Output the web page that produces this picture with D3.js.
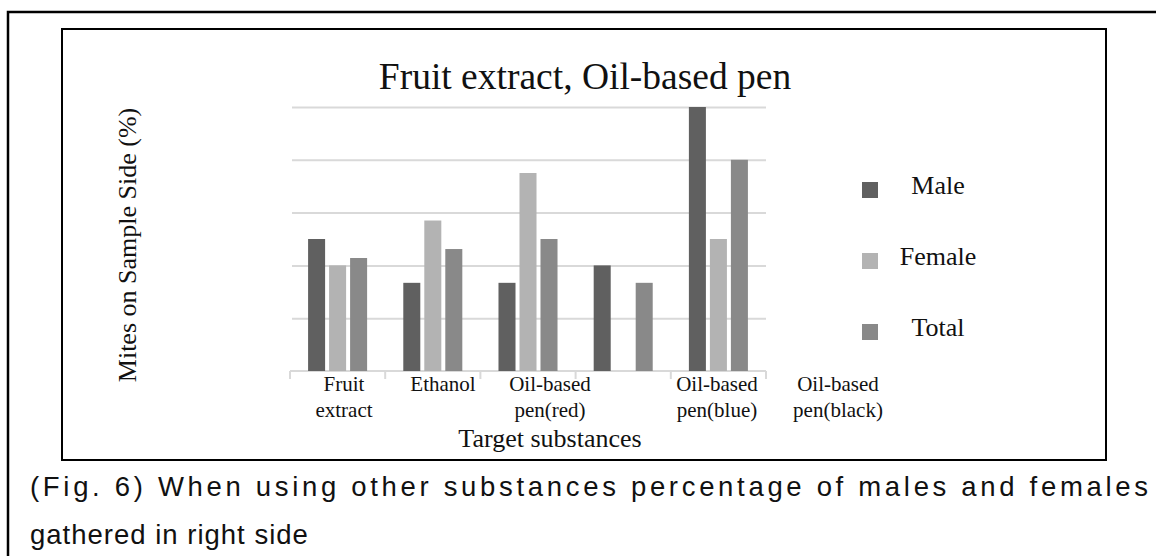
<!DOCTYPE html>
<html>
<head>
<meta charset="utf-8">
<script src="https://cdn.jsdelivr.net/npm/d3@7"></script>
<style>
  html, body { margin: 0; padding: 0; background: #fff; }
  svg { display: block; }
  .serif { font-family: "Liberation Serif", "Times New Roman", serif; fill: #111; }
  .sans { font-family: "Liberation Sans", Arial, sans-serif; fill: #111; }
</style>
</head>
<body>
<svg id="chart" width="1156" height="556"></svg>
<script>
// Categories (two-line labels) and series values, % of mites on the sample side
const categories = ["Fruit extract", "Ethanol", "Oil-based pen(red)", "Oil-based pen(blue)", "Oil-based pen(black)"];
const categoryLines = [["Fruit", "extract"], ["Ethanol"], ["Oil-based", "pen(red)"], ["Oil-based", "pen(blue)"], ["Oil-based", "pen(black)"]];
const seriesNames = ["Male", "Female", "Total"];
const maleValues = [25, 16.7, 16.7, 20, 50];
const femaleValues = [20, 28.5, 37.5, 0, 25];
const totalValues = [21.4, 23.1, 25, 16.7, 40];
const yTicks = [0, 10, 20, 30, 40, 50];

const seriesValues = [maleValues, femaleValues, totalValues];
const colors = ["#606060", "#b3b3b3", "#898989"];

// Where the category captions sit along the bottom (page x of each caption centre)
const captionCentres = [344, 443, 550, 717, 838];

const svg = d3.select("#chart");

// Figure frames
svg.append("path")
  .attr("d", "M8,556 V12 H1156")
  .attr("fill", "none").attr("stroke", "#000").attr("stroke-width", 2.5);
svg.append("rect")
  .attr("x", 62).attr("y", 29).attr("width", 1044).attr("height", 431)
  .attr("fill", "#fff").attr("stroke", "#000").attr("stroke-width", 2);

// Scales
const x0 = d3.scaleBand().domain(categories).range([290, 766])
  .paddingInner(0.38).paddingOuter(0.19);
const x1 = d3.scaleBand().domain(seriesNames).range([0, x0.bandwidth()])
  .paddingInner(0.19).paddingOuter(0);
const y = d3.scaleLinear().domain([0, 50]).range([371, 107]);

// Gridlines
const grid = svg.append("g")
  .attr("transform", "translate(292,0)")
  .call(d3.axisLeft(y).tickValues(yTicks.slice(1)).tickSize(-474).tickFormat(""));
grid.select(".domain").remove();
grid.selectAll(".tick line").attr("stroke", "#d9d9d9").attr("stroke-width", 2);

// Category axis: baseline plus separator ticks between groups
const step = x0.step();
const bounds = d3.range(categories.length + 1).map(i => 290 + i * step);
svg.append("line")
  .attr("x1", 290).attr("x2", 766).attr("y1", y(0)).attr("y2", y(0))
  .attr("stroke", "#d9d9d9").attr("stroke-width", 2);
svg.append("g").selectAll("line").data(bounds).join("line")
  .attr("x1", d => d).attr("x2", d => d)
  .attr("y1", y(0)).attr("y2", y(0) + 8)
  .attr("stroke", "#d9d9d9").attr("stroke-width", 2);

// Bars
const groups = svg.append("g").selectAll("g").data(categories).join("g")
  .attr("transform", d => `translate(${x0(d)},0)`);
groups.selectAll("rect")
  .data((d, i) => seriesNames.map((s, k) => ({ s, v: seriesValues[k][i], k })))
  .join("rect")
  .attr("x", d => x1(d.s))
  .attr("width", x1.bandwidth())
  .attr("y", d => y(d.v))
  .attr("height", d => y(0) - y(d.v))
  .attr("fill", d => colors[d.k]);

// Category captions
const cap = svg.append("g").selectAll("text").data(categoryLines).join("text")
  .attr("class", "serif")
  .attr("text-anchor", "middle")
  .attr("font-size", 21)
  .attr("x", (d, i) => captionCentres[i])
  .attr("y", 391);
cap.selectAll("tspan").data(d => d).join("tspan")
  .attr("x", function () { return d3.select(this.parentNode).attr("x"); })
  .attr("dy", (d, j) => j === 0 ? 0 : 26)
  .text(d => d);

// Titles
svg.append("text").attr("class", "serif")
  .attr("x", 585).attr("y", 89).attr("text-anchor", "middle")
  .attr("font-size", 37.5).text("Fruit extract, Oil-based pen");
svg.append("text").attr("class", "serif")
  .attr("x", 550).attr("y", 447).attr("text-anchor", "middle")
  .attr("font-size", 26).text("Target substances");
svg.append("text").attr("class", "serif")
  .attr("transform", "translate(136,245) rotate(-90)")
  .attr("text-anchor", "middle")
  .attr("font-size", 26).text("Mites on Sample Side (%)");

// Legend
const legendY = [182, 253, 324];
const leg = svg.append("g").selectAll("g").data(seriesNames).join("g");
leg.append("rect")
  .attr("x", 862).attr("y", (d, i) => legendY[i])
  .attr("width", 16).attr("height", 16)
  .attr("fill", (d, i) => colors[i]);
leg.append("text").attr("class", "serif")
  .attr("x", 938).attr("y", (d, i) => legendY[i] + 12)
  .attr("text-anchor", "middle").attr("font-size", 26)
  .text(d => d);

// Figure caption: first line spread over the full width, second line set naturally
svg.append("text").attr("class", "sans")
  .attr("x", 30).attr("y", 496).attr("font-size", 27.5)
  .attr("textLength", 1118).attr("lengthAdjust", "spacing")
  .text("(Fig. 6) When using other substances percentage of males and females");
svg.append("text").attr("class", "sans")
  .attr("x", 30).attr("y", 544).attr("font-size", 27.5)
  .attr("letter-spacing", 1)
  .text("gathered in right side");
</script>
</body>
</html>
